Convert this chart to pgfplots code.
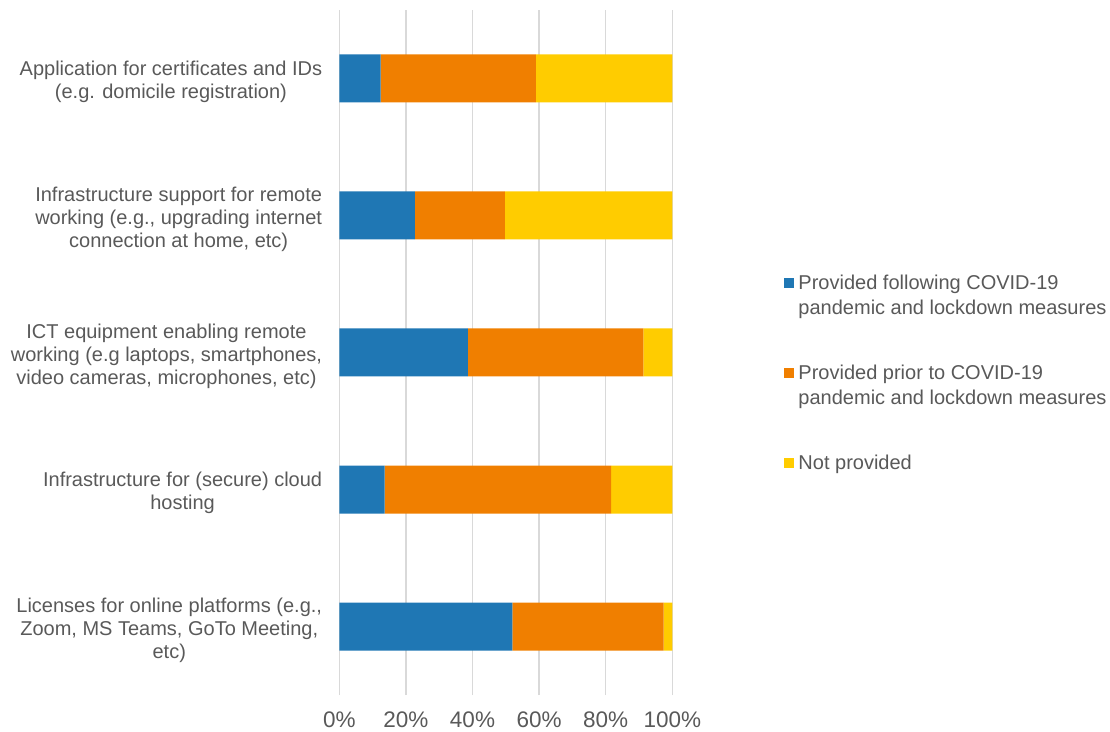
\documentclass[border=0pt]{standalone}
\usepackage{fontspec}
\setmainfont{Liberation Sans}
\usepackage{pgfplots}
\pgfplotsset{compat=1.18}
\definecolor{cblue}{HTML}{1F77B4}
\definecolor{corange}{HTML}{F07F00}
\definecolor{cyellow}{HTML}{FFCC00}
\definecolor{ctext}{HTML}{595959}
\definecolor{cgrid}{HTML}{D9D9D9}
\begin{document}
\begin{tikzpicture}
\path[use as bounding box] (-339.3pt,-36pt) rectangle (770.7pt,695pt);
\begin{axis}[
 at={(0,0)}, anchor=south west,
 scale only axis, width=333pt, height=685pt,
 xbar stacked, bar width=48pt,
 xmin=0, xmax=100, ymin=-0.5, ymax=4.5,
 xtick={0,20,...,100},
 xticklabel={\pgfmathprintnumber{\tick}\%},
 /pgf/number format/assume math mode=true,
 ytick={0,1,2,3,4},
 yticklabels={{Licenses for online platforms (e.g.,\\Zoom, MS Teams, GoTo Meeting,\\etc)},
   {Infrastructure for (secure) cloud\\hosting},
   {ICT equipment enabling remote\\working (e.g laptops, smartphones,\\video cameras, microphones, etc)},
   {Infrastructure support for remote\\working (e.g., upgrading internet\\connection at home, etc)},
   {Application for certificates and IDs\\(e.g. domicile registration)}},
 xmajorgrids, major grid style={cgrid, line width=1.3pt},
 axis line style={draw=none},
 major tick length=0pt,
 tick style={draw=none},
 xticklabel style={font=\fontsize{22.5}{25}\selectfont, text=ctext, anchor=base, yshift=-32pt, inner sep=0pt},
 yticklabel style={font=\fontsize{20}{23}\selectfont, text=ctext, align=center, anchor=east, inner sep=0pt, xshift=-17pt, yshift=-3.5pt},
 legend cell align=left,
 legend style={draw=none, at={(axis description cs:1.3354,0.6165)}, anchor=north west, inner sep=0pt, row sep=45pt,
   font=\fontsize{20}{25}\selectfont, text=ctext, cells={align=left, anchor=base west, inner sep=0pt}},
]
\addplot[fill=cblue, draw=none, legend image code/.code={\fill[cblue] (0pt,26.5pt) rectangle (10pt,36.5pt); \path (0pt,0pt) (12.3pt,0pt);}] coordinates {(52.0,0) (13.6,1) (38.6,2) (22.7,3) (12.4,4)};
\addplot[fill=corange, draw=none, legend image code/.code={\fill[corange] (0pt,26.5pt) rectangle (10pt,36.5pt); \path (0pt,0pt) (12.3pt,0pt);}] coordinates {(45.4,0) (68.0,1) (52.7,2) (27.0,3) (46.6,4)};
\addplot[fill=cyellow, draw=none, legend image code/.code={\fill[cyellow] (0pt,1.5pt) rectangle (10pt,11.5pt); \path (0pt,0pt) (12.3pt,0pt);}] coordinates {(2.6,0) (18.4,1) (8.7,2) (50.3,3) (41.0,4)};
\addlegendentry{Provided following COVID-19\\pandemic and lockdown measures}
\addlegendentry{Provided prior to COVID-19\\pandemic and lockdown measures}
\addlegendentry{Not provided}
\end{axis}
\end{tikzpicture}
\end{document}
